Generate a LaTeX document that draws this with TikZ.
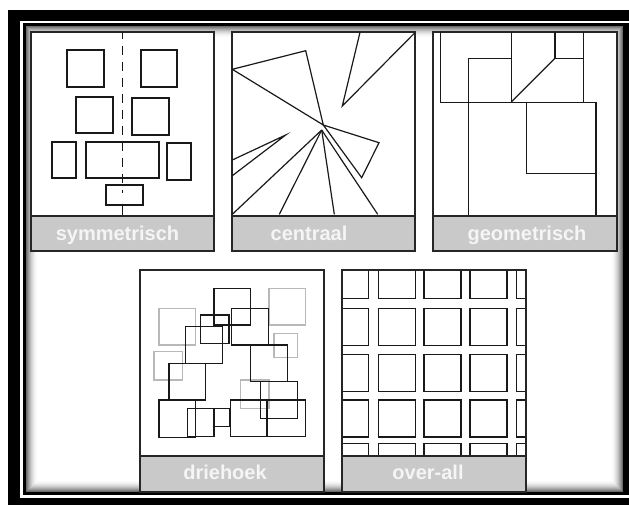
\documentclass[tikz,border=0pt]{standalone}
\usepackage{fontspec}
\setmainfont{Liberation Sans}
\begin{document}
\begin{tikzpicture}[x=1pt,y=-1pt]
\tikzset{
  panelbox/.style={draw=black!85, line width=1.3pt, fill=white},
  bandbox/.style={draw=black!85, line width=1.3pt, fill=black!21},
  lab/.style={text=black!4, font=\fontsize{20}{20}\selectfont\bfseries, anchor=base, inner sep=0pt},
  ln/.style={draw=black!90, line width=1.2pt},
  ghost/.style={draw=black!28, line width=1.2pt},
}
\useasboundingbox (0,0) rectangle (629,504);
\clip (0,0) rectangle (629,504);
% frame
\fill[white] (0,0) rectangle (629,504);
\fill[black] (8,10) rectangle (650,520);
\fill[white] (20,21) rectangle (650,498);
\fill[black] (23,23) rectangle (650,495);
\fill[white] (26,26) rectangle (623,492);
\foreach \i in {0,...,11}{
  \pgfmathsetmacro\c{58*(1-\i/12)^2}
  \draw[black!\c, line width=1pt] (26.5+\i,26.5+\i) rectangle (622.5-\i,491.5-\i);
}
% ---------- panel 1: symmetrisch
\draw[panelbox] (31,32) rectangle (214,216);
\draw[ln, dash pattern=on 9pt off 7pt, dash phase=2pt] (122.7,32) -- (122.7,193);
\draw[ln] (122.7,205) -- (122.7,216);
\draw[ln] (67,50) rectangle (104,87);
\draw[ln] (141,50) rectangle (177,87);
\draw[ln] (76,97) rectangle (113,133);
\draw[ln] (132,98) rectangle (169,135);
\draw[ln] (52,142) rectangle (76,178);
\draw[ln] (86,142) rectangle (159,178);
\draw[ln] (167,143) rectangle (191,180);
\draw[ln] (106,185) rectangle (143,205);
\draw[bandbox] (31,216) rectangle (214,251);
\node[lab] (l1) at (117.5,240) {symmetrisch};
% ---------- panel 2: centraal
\draw[panelbox] (232,32) rectangle (415,216);
\begin{scope}
\clip (232,32) rectangle (415,216);
\coordinate (c1) at (323.3,125);
\coordinate (c2) at (321.7,130);
\draw[ln] (232.3,69.3) -- (305.7,50.7) -- (c1) -- cycle;
\draw[ln] (360,32.3) -- (342.3,106) -- (414.3,33.3);
\draw[ln] (c1) -- (379,142.7) -- (361.7,177.7) -- cycle;
\draw[ln] (c2) -- (232.3,214.3);
\draw[ln] (c2) -- (279.3,214.3);
\draw[ln] (c2) -- (334.3,214.3);
\draw[ln] (c2) -- (377.7,214.3);
\draw[ln] (232.3,160) -- (285.7,135) -- (232.3,175.7);
\end{scope}
\draw[bandbox] (232,216) rectangle (415,251);
\node[lab] (l2) at (309,240) {centraal};
% ---------- panel 3: geometrisch
\draw[panelbox] (433,32) rectangle (617,216);
\draw[ln] (440.7,32) -- (440.7,102.3) -- (583.3,102.3) -- (583.3,32);
\draw[ln] (511.7,32) -- (511.7,102.3);
\draw[ln] (555,32) -- (555,58.3) -- (583.3,58.3);
\draw[ln] (468.3,216) -- (468.3,58.3) -- (511.7,58.3);
\draw[ln] (511.7,101.5) -- (555,58.3);
\draw[ln] (526.7,102.3) rectangle (596,173.3);
\draw[ln] (596,173.3) -- (596,216);
\draw[bandbox] (433,216) rectangle (617,251);
\node[lab] (l3) at (527,240) {geometrisch};
% ---------- panel 4: driehoek
\draw[panelbox] (140,270) rectangle (324,456);
\draw[ghost] (159,308.3) rectangle (195.7,345);
\draw[ghost] (269,288.3) rectangle (305.7,325);
\draw[ghost] (154,351.7) rectangle (182.3,380);
\draw[ghost] (274,333.3) rectangle (297.3,357.3);
\draw[ghost] (240.7,380) rectangle (269,408.3);
\draw[ln] (214,288.3) rectangle (250.7,325);
\draw[ln] (200.7,315) rectangle (229,343.3);
\draw[ln] (231.7,308.3) rectangle (268.3,345);
\draw[ln] (185.7,326.7) rectangle (222.3,363.3);
\draw[ln] (250.7,345) rectangle (287.3,381.7);
\draw[ln] (169,363.3) rectangle (205.7,400);
\draw[ln] (260.7,381.7) rectangle (297.3,418.3);
\draw[ln] (159,400) rectangle (195.7,437.3);
\draw[ln] (187.3,408.3) rectangle (214,436.7);
\draw[ln] (214,408.3) rectangle (230.7,426.7);
\draw[ln, line width=2pt] (230.2,408.3) -- (230.2,426.7);
\draw[ln] (230.7,400) rectangle (267.3,436.7);
\draw[ln] (267.3,400) rectangle (305.7,436.7);
\draw[ln, line width=2pt] (267.3,400) -- (267.3,436.7);
\draw[bandbox] (140,456) rectangle (324,492);
\node[lab] (l4) at (225,479) {driehoek};
% ---------- panel 5: over-all
\draw[panelbox] (342,270) rectangle (526,456);
\begin{scope}
\clip (342,270) rectangle (526,456);
\foreach \cx in {331.5,378.3,424,470,516.7}{
  \foreach \cy in {261.5,308.3,354.5,400,443.3}{
    \draw[ln] (\cx,\cy) rectangle ++(37,37);
  }
}
\end{scope}
\draw[panelbox, fill=none] (342,270) rectangle (526,456);
\draw[bandbox] (342,456) rectangle (526,492);
\node[lab] (l5) at (428,479) {over-all};
\end{tikzpicture}
\end{document}
